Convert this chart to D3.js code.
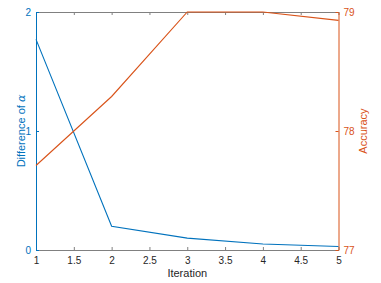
<!DOCTYPE html>
<html>
<head>
<meta charset="utf-8">
<script src="https://cdn.jsdelivr.net/npm/d3@7"></script>
<style>
body { margin: 0; background: #fff; }
text { font-family: "Liberation Sans", Arial, sans-serif; }
</style>
</head>
<body>
<script>
// data
var iterations = [1, 2, 3, 4, 5];
var diffAlpha = [1.77, 0.2, 0.1, 0.05, 0.03];
var accuracy = [77.71, 78.29, 79.0, 79.0, 78.93];
var xTicks = [1, 1.5, 2, 2.5, 3, 3.5, 4, 4.5, 5];
var leftTicks = [0, 1, 2];
var rightTicks = [77, 78, 79];

var W = 381, H = 283;
var plotL = 36, plotR = 338.5, plotT = 12, plotB = 250;
var blue = "#0072BD", orange = "#D95319", grey = "#262626";
var fontFam = "Liberation Sans, Arial, sans-serif";

var svg = d3.select("body").append("svg").attr("width", W).attr("height", H);

var x = d3.scaleLinear().domain([1, 5]).range([plotL, plotR]);
var yL = d3.scaleLinear().domain([0, 2]).range([plotB, plotT]);
var yR = d3.scaleLinear().domain([77, 79]).range([plotB, plotT]);

// bottom axis
svg.append("g").attr("transform", "translate(0," + plotB + ")")
    .call(d3.axisBottom(x).tickValues(xTicks).tickSizeInner(-3).tickSizeOuter(0).tickPadding(7).tickFormat(d3.format("")))
    .call(g => g.select(".domain").attr("stroke", "#808080"))
    .call(g => g.selectAll(".tick line").attr("stroke", "#808080"))
    .call(g => g.selectAll("text").attr("fill", grey).attr("font-size", 10).attr("font-family", fontFam));

// top axis (box)
svg.append("g").attr("transform", "translate(0," + plotT + ")")
    .call(d3.axisTop(x).tickValues(xTicks).tickSizeInner(-3).tickSizeOuter(0).tickFormat(""))
    .call(g => g.select(".domain").attr("stroke", "#808080"))
    .call(g => g.selectAll(".tick line").attr("stroke", "#808080"));

// left axis
svg.append("g").attr("transform", "translate(" + plotL + ",0)")
    .call(d3.axisLeft(yL).tickValues(leftTicks).tickSizeInner(-3).tickSizeOuter(0).tickPadding(5).tickFormat(d3.format("d")))
    .call(g => g.select(".domain").attr("stroke", blue))
    .call(g => g.selectAll(".tick line").attr("stroke", blue))
    .call(g => g.selectAll("text").attr("fill", blue).attr("font-size", 10).attr("font-family", fontFam));

// right axis
svg.append("g").attr("transform", "translate(" + plotR + ",0)")
    .call(d3.axisRight(yR).tickValues(rightTicks).tickSizeInner(-3).tickSizeOuter(0).tickPadding(5).tickFormat(d3.format("d")))
    .call(g => g.select(".domain").attr("stroke", orange))
    .call(g => g.selectAll(".tick line").attr("stroke", orange))
    .call(g => g.selectAll("text").attr("fill", orange).attr("font-size", 10).attr("font-family", fontFam));

// lines
var lineL = d3.line().x((d, i) => x(iterations[i])).y(d => yL(d));
var lineR = d3.line().x((d, i) => x(iterations[i])).y(d => yR(d));

svg.append("path").datum(diffAlpha).attr("d", lineL)
    .attr("fill", "none").attr("stroke", blue).attr("stroke-width", 1.1);
svg.append("path").datum(accuracy).attr("d", lineR)
    .attr("fill", "none").attr("stroke", orange).attr("stroke-width", 1.1);

// labels
svg.append("text").attr("x", (plotL + plotR) / 2).attr("y", 277)
    .attr("text-anchor", "middle").attr("font-size", 11).attr("fill", grey).text("Iteration");

var lt = svg.append("text").attr("transform", "translate(25," + ((plotT + plotB) / 2) + ") rotate(-90)")
    .attr("text-anchor", "middle").attr("font-size", 11).attr("fill", blue);
lt.append("tspan").text("Difference of ");
lt.append("tspan").attr("font-style", "italic").attr("font-family", "DejaVu Serif, serif").text("α");

svg.append("text").attr("transform", "translate(367," + ((plotT + plotB) / 2) + ") rotate(-90)")
    .attr("text-anchor", "middle").attr("font-size", 11).attr("fill", orange).text("Accuracy");
</script>
</body>
</html>
